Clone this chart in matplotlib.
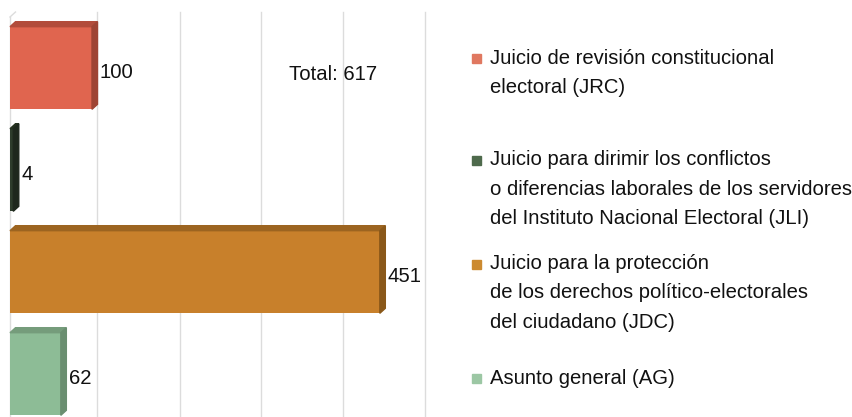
import matplotlib.pyplot as plt
from matplotlib.patches import Polygon

# data
codes = ["JRC", "JLI", "JDC", "AG"]
values = [100, 4, 451, 62]
legend_labels = [
    "Juicio de revisión constitucional\nelectoral (JRC)",
    "Juicio para dirimir los conflictos\no diferencias laborales de los servidores\ndel Instituto Nacional Electoral (JLI)",
    "Juicio para la protección\nde los derechos político-electorales\ndel ciudadano (JDC)",
    "Asunto general (AG)",
]
total_label = "Total: 617"
grid_ticks = [0, 100, 200, 300, 400, 500]

# styles
front = ["#E0654F", "#2E3D2C", "#C8802B", "#8DBC96"]
side = ["#9E4434", "#1E281D", "#8A5819", "#6A8E70"]
top = ["#B24C3B", "#25321F", "#9C6420", "#759C7B"]
legend_col = ["#E07860", "#4E6A4C", "#CC8A30", "#9CC7A4"]

W, H = 853, 417
FS = 14.6
plt.rcParams["font.family"] = ["Liberation Sans", "DejaVu Sans"]
fig = plt.figure(figsize=(W / 100, H / 100), dpi=100)
ax = fig.add_axes([0, 0, 1, 1])

# pixel mapping: x0 at 10px, 0.82 px per unit; category pitch 102px, first centre at 68px
sx = 0.82
x0 = 10
pitch = 102
c0 = 68
ax.set_xlim(-x0 / sx, (W - x0) / sx)
ax.set_ylim((H - c0) / pitch, -c0 / pitch)
ax.axis("off")

dx = 5.5 / sx       # depth in data units
dy = 5.0 / pitch
bh = 0.81

# gridlines on back wall
gtop = (12 - c0) / pitch
gbot = (H - c0) / pitch
for g in grid_ticks[1:]:
    ax.plot([g + dx, g + dx], [gtop, gbot], color="#DCDCDC", lw=1.0, zorder=0)
ax.plot([0, 0], [gtop + dy, gbot], color="#DCDCDC", lw=1.0, zorder=0)
ax.plot([0, dx], [gtop + dy, gtop], color="#DCDCDC", lw=1.0, zorder=0)

ypos = list(range(len(values)))
ax.barh(ypos, values, height=bh, color=front, left=0, zorder=3)
for i, v in enumerate(values):
    yt = i - bh / 2
    yb = i + bh / 2
    ax.add_patch(Polygon([(0, yt), (v, yt), (v + dx, yt - dy), (dx, yt - dy)],
                         closed=True, color=top[i], zorder=3))
    ax.add_patch(Polygon([(v, yt), (v + dx, yt - dy), (v + dx, yb - dy), (v, yb)],
                         closed=True, color=side[i], zorder=3))
    ax.text(v + dx + 2.5 / sx, i + 0.04, str(v), ha="left", va="center",
            fontsize=FS, color="#111111", zorder=4)

ax.text(289 / sx - x0 / sx, (74 - c0) / pitch, total_label, ha="left", va="center",
        fontsize=FS, color="#111111")

# legend
entry_y = [58, 160, 264, 378]
for lab, col, y in zip(legend_labels, legend_col, entry_y):
    n = lab.count("\n") + 1
    fig.patches.append(plt.Rectangle((472 / W, 1 - (y + 5) / H), 9.5 / W, 9.5 / H,
                                     transform=fig.transFigure, color=col))
    fig.text(490 / W, 1 - (y + 1 + (n - 1) * 14) / H, lab, ha="left", va="center",
             fontsize=FS, color="#111111", linespacing=1.72)

fig.savefig("out.png", dpi=100)
